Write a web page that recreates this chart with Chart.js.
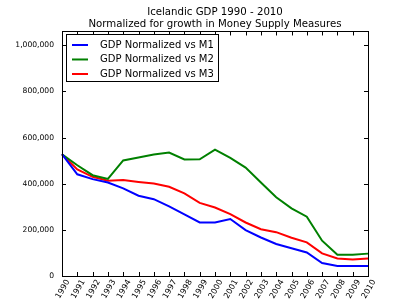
<!DOCTYPE html>
<html>
<head>
<meta charset="utf-8">
<script src="https://cdn.jsdelivr.net/npm/chart.js@4/dist/chart.umd.min.js"></script>
<style>
  html, body { margin: 0; padding: 0; background: #fff; }
  #wrap { width: 409px; height: 307px; }
</style>
</head>
<body>
<div id="wrap"><canvas id="gdpChart" width="409" height="307"></canvas></div>
<script>
// data
const years = ['1990','1991','1992','1993','1994','1995','1996','1997','1998','1999','2000',
               '2001','2002','2003','2004','2005','2006','2007','2008','2009','2010'];
const gdpVsM1 = [528000, 441000, 420000, 405000, 380000, 348000, 333000, 302000, 267000, 232000, 232000,
                 247000, 199000, 167000, 139000, 120000, 102000, 56000, 43000, 43000, 43000];
const gdpVsM2 = [528000, 480000, 437000, 421000, 501000, 514000, 527000, 535000, 505000, 506000, 548000,
                 512000, 470000, 405000, 341000, 293000, 257000, 153000, 92000, 92000, 97000];
const gdpVsM3 = [528000, 462000, 430000, 413000, 416000, 408000, 401000, 387000, 358000, 317000, 297000,
                 268000, 232000, 203000, 190000, 166000, 146000, 98000, 76000, 72000, 76000];
const yTicks = [0, 200000, 400000, 600000, 800000, 1000000];
const yMax = 1060000;

const font = 'DejaVu Sans';

// box round the plot, ticks pointing inwards, legend in a framed box
const framePlugin = {
    id: 'frame',
    afterDatasetsDraw(chart) {
        const { ctx, chartArea: a, scales } = chart;
        const len = 4;
        ctx.save();
        ctx.strokeStyle = '#000';
        ctx.lineWidth = 1;
        ctx.beginPath();
        scales.x.ticks.forEach((t, i) => {
            const px = Math.round(scales.x.getPixelForTick(i)) + 0.5;
            ctx.moveTo(px, a.bottom); ctx.lineTo(px, a.bottom - len);
            ctx.moveTo(px, a.top); ctx.lineTo(px, a.top + len);
        });
        scales.y.ticks.forEach(t => {
            const py = Math.round(scales.y.getPixelForValue(t.value)) + 0.5;
            ctx.moveTo(a.left, py); ctx.lineTo(a.left + len, py);
            ctx.moveTo(a.right, py); ctx.lineTo(a.right - len, py);
        });
        ctx.stroke();
        ctx.strokeRect(Math.round(a.left) + 0.5, Math.round(a.top) + 0.5,
                       Math.round(a.right - a.left), Math.round(a.bottom - a.top));

        // legend
        const bx = a.left + 4, by = a.top + 3, bw = 152, bh = 47;
        ctx.fillStyle = '#fff';
        ctx.fillRect(bx, by, bw, bh);
        ctx.strokeRect(Math.round(bx) + 0.5, Math.round(by) + 0.5, bw, bh);
        ctx.font = '10px "' + font + '"';
        ctx.textBaseline = 'middle';
        chart.data.datasets.forEach((ds, i) => {
            const y = by + 10.5 + i * 14.5;
            ctx.strokeStyle = ds.borderColor;
            ctx.lineWidth = 2;
            ctx.beginPath();
            ctx.moveTo(bx + 6, y); ctx.lineTo(bx + 22, y);
            ctx.stroke();
            ctx.fillStyle = '#000';
            ctx.fillText(ds.label, bx + 34, y);
        });
        ctx.restore();
    }
};

const ctx = document.getElementById('gdpChart').getContext('2d');
new Chart(ctx, {
    type: 'line',
    data: {
        labels: years,
        datasets: [
            { label: 'GDP Normalized vs M1', data: gdpVsM1, borderColor: '#0000ff', borderWidth: 2 },
            { label: 'GDP Normalized vs M2', data: gdpVsM2, borderColor: '#008000', borderWidth: 2 },
            { label: 'GDP Normalized vs M3', data: gdpVsM3, borderColor: '#ff0000', borderWidth: 2 }
        ]
    },
    options: {
        responsive: false,
        animation: false,
        layout: { padding: { left: 0, right: 41, top: 0, bottom: 0 } },
        elements: { point: { radius: 0 }, line: { tension: 0, fill: false } },
        plugins: {
            legend: { display: false },
            tooltip: { enabled: false },
            title: {
                display: true,
                fullSize: false,
                text: ['Icelandic GDP 1990 - 2010', 'Normalized for growth in Money Supply Measures'],
                color: '#000',
                font: { family: font, size: 10.2, weight: 'normal', lineHeight: 1.2 },
                padding: { top: 6, bottom: 1 }
            }
        },
        scales: {
            x: {
                offset: false,
                grid: { display: false, drawTicks: false },
                border: { display: false },
                ticks: {
                    color: '#000',
                    font: { family: font, size: 8 },
                    minRotation: 60,
                    maxRotation: 60,
                    padding: 2,
                    labelOffset: 6,
                    autoSkip: false
                },
                afterFit(scale) { scale.height = 31; }
            },
            y: {
                min: 0,
                max: yMax,
                grid: { display: false, drawTicks: false },
                border: { display: false },
                afterBuildTicks(scale) {
                    scale.ticks = yTicks.map(v => ({ value: v }));
                },
                ticks: {
                    color: '#000',
                    font: { family: font, size: 7.6 },
                    padding: 8,
                    callback: v => v.toLocaleString('en-US')
                },
                afterFit(scale) { scale.width = 62; }
            }
        }
    },
    plugins: [framePlugin]
});
</script>
</body>
</html>
